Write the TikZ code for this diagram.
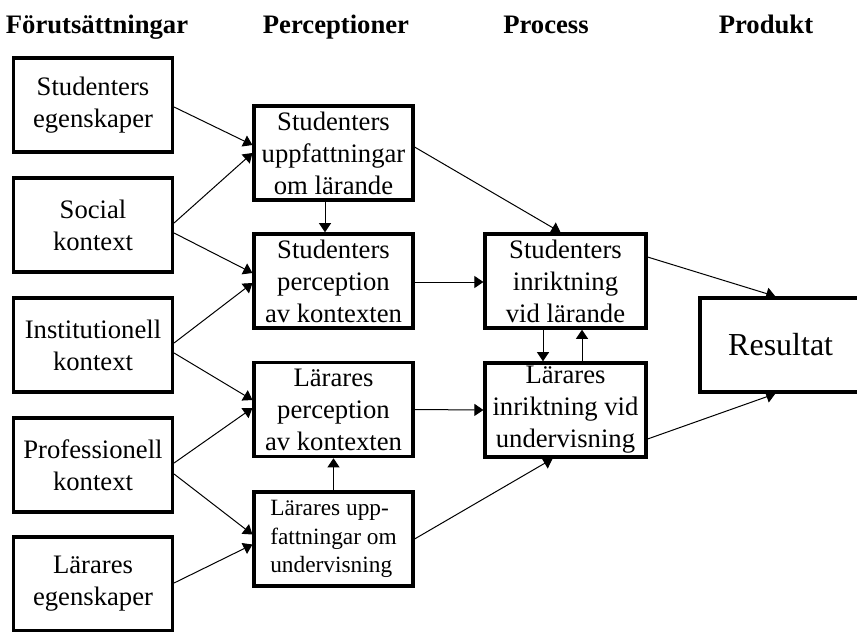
\documentclass[tikz,border=0pt]{standalone}
\usepackage{fontspec}
\setmainfont{Liberation Serif}
\usetikzlibrary{calc,arrows.meta}

\begin{document}
\begin{tikzpicture}
  [x=0.75pt,y=-0.75pt,
   rubrik/.style={anchor=base,font=\fontsize{20}{24}\selectfont\bfseries,inner sep=0},
   ruta/.style={rectangle,draw,line width=2.6pt,minimum width=119pt,minimum height=70.5pt,
     inner sep=0,align=center,font=\fontsize{20}{24}\selectfont},
   pil/.style={line width=0.75pt,-{Triangle[length=6.8pt,width=9pt]}}]
  \useasboundingbox (0,0) rectangle (857,632);
  % Rubriker
  \node[rubrik] (forut) at (97,33) {Förutsättningar};
  \node[rubrik] (perc) at (336,33) {Perceptioner};
  \node[rubrik] (proc) at (546,33) {Process};
  \node[rubrik] (prod) at (766,33) {Produkt};
  % Förutsättningar
  \node[ruta] (stuEgen) at (93,105) {Studenters\\egenskaper};
  \node[ruta] (social) at (93,225) {Social\\kontext};
  \node[ruta] (inst) at (93,345) {Institutionell\\kontext};
  \node[ruta] (prof) at (93,465) {Professionell\\kontext};
  \node[ruta] (larEgen) at (93,584) {Lärares\\egenskaper};
  % Perceptioner
  \node[ruta] (stuUppf) at (333.5,153) {Studenters\\uppfattningar\\om lärande};
  \node[ruta] (stuPerc) at (333.5,281) {Studenters\\perception\\av kontexten};
  \node[ruta] (larPerc) at (333.5,409.5) {Lärares\\perception\\av kontexten};
  \node[ruta,align=left,font=\fontsize{17.5}{21.5}\selectfont] (larUppf) at (333.5,539)
    {Lärares upp-\\fattningar om\\undervisning};
  % Process och produkt
  \node[ruta,minimum width=120.5pt] (stuInr) at (565.5,281) {Studenters\\inriktning\\vid lärande};
  \node[ruta,minimum width=120.5pt] (larInr) at (565.5,410) {Lärares\\inriktning vid\\undervisning};
  \node[ruta,minimum width=135pt,font=\fontsize{24}{28}\selectfont] (res) at (790,345) {\hspace*{-14pt}Resultat};

  \foreach \fra/\fy/\till/\ty in {stuEgen/2/stuUppf/-8, social/-2/stuUppf/0,
              social/8/stuPerc/-8, inst/-2/stuPerc/2,
              inst/8/larPerc/-9.5, prof/-2/larPerc/-1.5,
              prof/9/larUppf/-4.5, larEgen/-1/larUppf/5.5}
    \draw[pil] ($(\fra.east)+(0,\fy)$) -- ($(\till.west)+(0,\ty)$);

  \draw[pil] ($(stuUppf.south)+(-8.5,0)$) -- ($(stuPerc.north)+(-8.5,0)$);
  \draw[pil] (larUppf.north) -- (larPerc.south);
  \draw[pil] ($(stuUppf.east)+(0,-6)$) -- ($(stuInr.north)+(-5,0)$);
  \draw[pil] ($(stuPerc.east)+(0,1)$) -- ($(stuInr.west)+(0,1)$);
  \draw[pil] (larPerc.east) -- (larInr.west);
  \draw[pil] (larUppf.east) -- ($(larInr.south)+(-13,0)$);
  \draw[pil] ($(stuInr.south)+(-22.5,0)$) -- ($(larInr.north)+(-22.5,0)$);
  \draw[pil] ($(larInr.north)+(16.5,0)$) -- ($(stuInr.south)+(16.5,0)$);
  \draw[pil] ($(stuInr.east)+(0,-24)$) -- ($(res.north west)+(77,0)$);
  \draw[pil] ($(larInr.east)+(0,29)$) -- ($(res.south west)+(77,0)$);
\end{tikzpicture}
\end{document}
